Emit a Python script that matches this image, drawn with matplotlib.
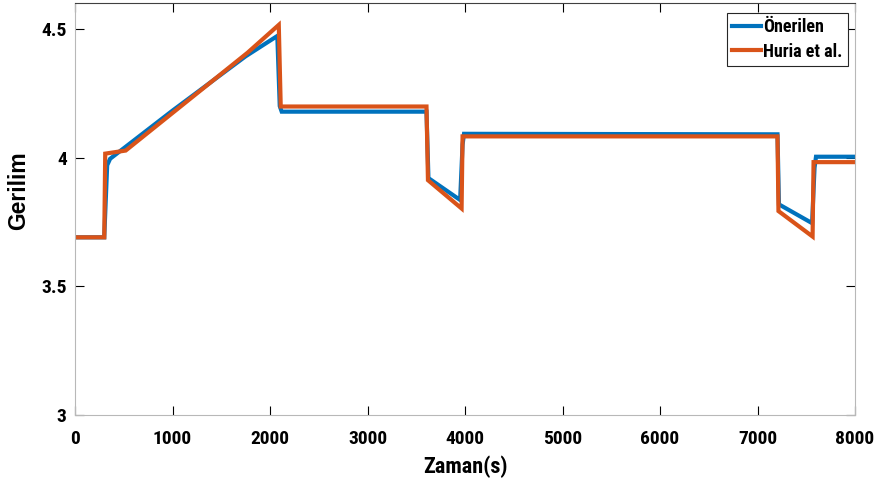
import matplotlib
matplotlib.use("Agg")
import matplotlib.pyplot as plt
from matplotlib import font_manager

# Önerilen (blue)
t_oner = [0, 300, 330, 360, 1000, 1750, 2075, 2100, 2120, 3605, 3625, 3950, 3975, 3990, 7205, 7220, 7560, 7585, 7600, 8000]
v_oner = [3.69, 3.69, 3.97, 3.995, 4.182, 4.393, 4.472, 4.20, 4.178, 4.178, 3.920, 3.835, 4.05, 4.092, 4.090, 3.818, 3.745, 3.96, 4.003, 4.003]

# Huria et al. (orange)
t_huria = [0, 300, 310, 520, 1770, 2090, 2110, 3605, 3620, 3965, 3975, 7205, 7215, 7565, 7575, 8000]
v_huria = [3.69, 3.69, 4.015, 4.027, 4.407, 4.515, 4.198, 4.198, 3.912, 3.802, 4.082, 4.082, 3.792, 3.693, 3.982, 3.982]

xticks = [0, 1000, 2000, 3000, 4000, 5000, 6000, 7000, 8000]
yticks = [3, 3.5, 4, 4.5]

# look for a condensed bold face, otherwise plain Liberation Sans
names = set(f.name for f in font_manager.fontManager.ttflist)
stretches = set((f.name, f.stretch) for f in font_manager.fontManager.ttflist)
narrow_font = None
narrow_stretch = 'normal'
for cand in ['Liberation Sans Narrow', 'Roboto Condensed', 'Open Sans Condensed', 'Noto Sans Condensed']:
    if cand in names:
        narrow_font = cand
        break
if narrow_font is None:
    for (n, st) in stretches:
        if n == 'DejaVu Sans' and st not in ('normal', 500):
            narrow_font = 'DejaVu Sans'
            narrow_stretch = 'condensed'
            break
if narrow_font is None:
    narrow_font = 'Liberation Sans'
    scale = 0.85
else:
    scale = 1.0

narrow = [narrow_font, 'DejaVu Sans']
tick_fs = 14 * scale

fig = plt.figure(figsize=(8.77, 4.88), dpi=100)
ax = fig.add_axes([75/877, 73/488, 780/877, 412/488])

ax.plot(t_oner, v_oner, color='#0072BD', lw=3.0, label='Önerilen', solid_joinstyle='miter')
ax.plot(t_huria, v_huria, color='#D95319', lw=3.0, label='Huria et al.', solid_joinstyle='miter')

ax.set_xlim(0, 8000)
ax.set_ylim(3, 4.6)
ax.set_xticks(xticks)
ax.set_yticks(yticks)
ax.set_xticklabels([str(x) for x in xticks], fontfamily=narrow, fontweight='bold', fontsize=tick_fs,
                   fontstretch=narrow_stretch)
ax.set_yticklabels(['3', '3.5', '4', '4.5'], fontfamily=narrow, fontweight='bold', fontsize=tick_fs,
                   fontstretch=narrow_stretch)
ax.tick_params(direction='in', length=6.5, width=0.8, color='black', top=True, right=True)
ax.tick_params(axis='x', pad=11)
ax.tick_params(axis='y', pad=6)

for s in ['left', 'bottom', 'right']:
    ax.spines[s].set_color('#b8b8b8')
ax.spines['top'].set_color('#404040')

ax.set_xlabel('Zaman(s)', fontfamily=narrow, fontweight='bold', fontsize=16 * scale, fontstretch=narrow_stretch)
ax.set_ylabel('Gerilim', fontfamily=['Liberation Sans', 'DejaVu Sans'], fontweight='bold', fontsize=16.5)
ax.xaxis.set_label_coords(0.5, -0.098)
ax.yaxis.set_label_coords(-0.057, 0.545)

leg = ax.legend(loc='upper right', bbox_to_anchor=(0.991, 0.976),
                prop={'family': narrow, 'weight': 'bold', 'size': 13 * scale, 'stretch': narrow_stretch},
                fancybox=False, framealpha=1, edgecolor='#262626', handlelength=1.6, handletextpad=0.1,
                borderpad=0.3, labelspacing=0.35, borderaxespad=0)
leg.get_frame().set_linewidth(0.8)

fig.savefig('out.png', dpi=100)
